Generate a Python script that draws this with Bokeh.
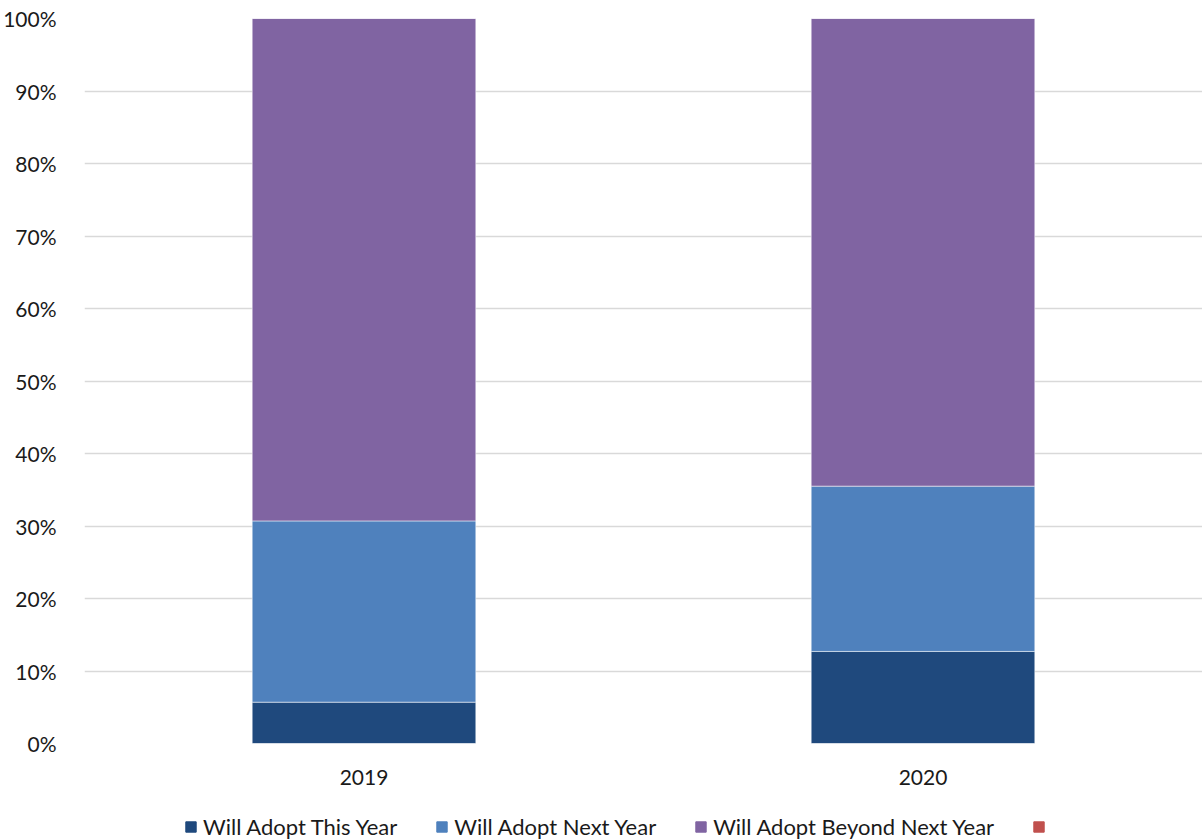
from bokeh.plotting import figure
from bokeh.layouts import column
from bokeh.models import (Range1d, FactorRange, FixedTicker, NumeralTickFormatter,
                          ColumnDataSource, Legend, LegendItem)
from bokeh.embed import file_html
from bokeh.resources import INLINE

years = ["2019", "2020"]
this_year = [0.057, 0.127]
next_year = [0.250, 0.228]
beyond_next = [0.693, 0.645]
unnamed = [0.0, 0.0]

series_names = ["Will Adopt This Year", "Will Adopt Next Year", "Will Adopt Beyond Next Year", " "]
series_keys = ["this_year", "next_year", "beyond_next", "unnamed"]
colors = ["#1F497D", "#4F81BD", "#8064A2", "#C0504D"]
y_ticks = [i / 10 for i in range(11)]

source = ColumnDataSource(dict(years=years, this_year=this_year, next_year=next_year,
                               beyond_next=beyond_next, unnamed=unnamed))

FONT = "Lato"

p = figure(width=1202, height=800, x_range=FactorRange(*years, range_padding=0),
           y_range=Range1d(0, 1), output_backend="svg", toolbar_location=None,
           min_border_left=80, min_border_right=0, min_border_top=18, min_border_bottom=57)
p.outline_line_color = None

p.vbar_stack(series_keys, x="years", width=0.4, source=source,
             color=colors, line_color="white", line_alpha=0.5, line_width=1)

p.yaxis.ticker = FixedTicker(ticks=y_ticks)
p.yaxis.formatter = NumeralTickFormatter(format="0%")
for ax in (p.xaxis[0], p.yaxis[0]):
    ax.axis_line_color = None
    ax.major_tick_line_color = None
    ax.minor_tick_line_color = None
    ax.major_label_text_font = FONT
    ax.major_label_text_font_size = "21px"
    ax.major_label_text_color = "#1a1a1a"
p.yaxis.major_label_standoff = 22
p.xaxis.major_label_standoff = 20

p.xgrid.grid_line_color = None
p.ygrid.grid_line_color = "#d9d9d9"
p.ygrid.grid_line_width = 1.5
p.ygrid.ticker = FixedTicker(ticks=y_ticks)

# legend strip below the chart
lg = figure(width=1202, height=40, x_range=FactorRange(*years), y_range=Range1d(0, 1),
            output_backend="svg", toolbar_location=None, x_axis_location=None,
            y_axis_location=None, min_border=0)
lg.outline_line_color = None
lg.xgrid.visible = False
lg.ygrid.visible = False
lrend = lg.vbar_stack(series_keys, x="years", width=0.4, source=source, color=colors)
for r in lrend:
    r.visible = False

items = [LegendItem(label=n, renderers=[r]) for n, r in zip(series_names, lrend)]
legend = Legend(items=items, orientation="horizontal", location=(100, 0),
                glyph_width=13, glyph_height=13, label_standoff=6, spacing=38,
                padding=0, margin=0, border_line_color=None, background_fill_alpha=0,
                inactive_fill_alpha=0, click_policy="none",
                label_text_font=FONT, label_text_font_size="22px", label_text_color="#1a1a1a",
                label_height=20)
lg.add_layout(legend, "center")

layout = column(p, lg, spacing=0)
open("out.html", "w").write(file_html(layout, INLINE))
